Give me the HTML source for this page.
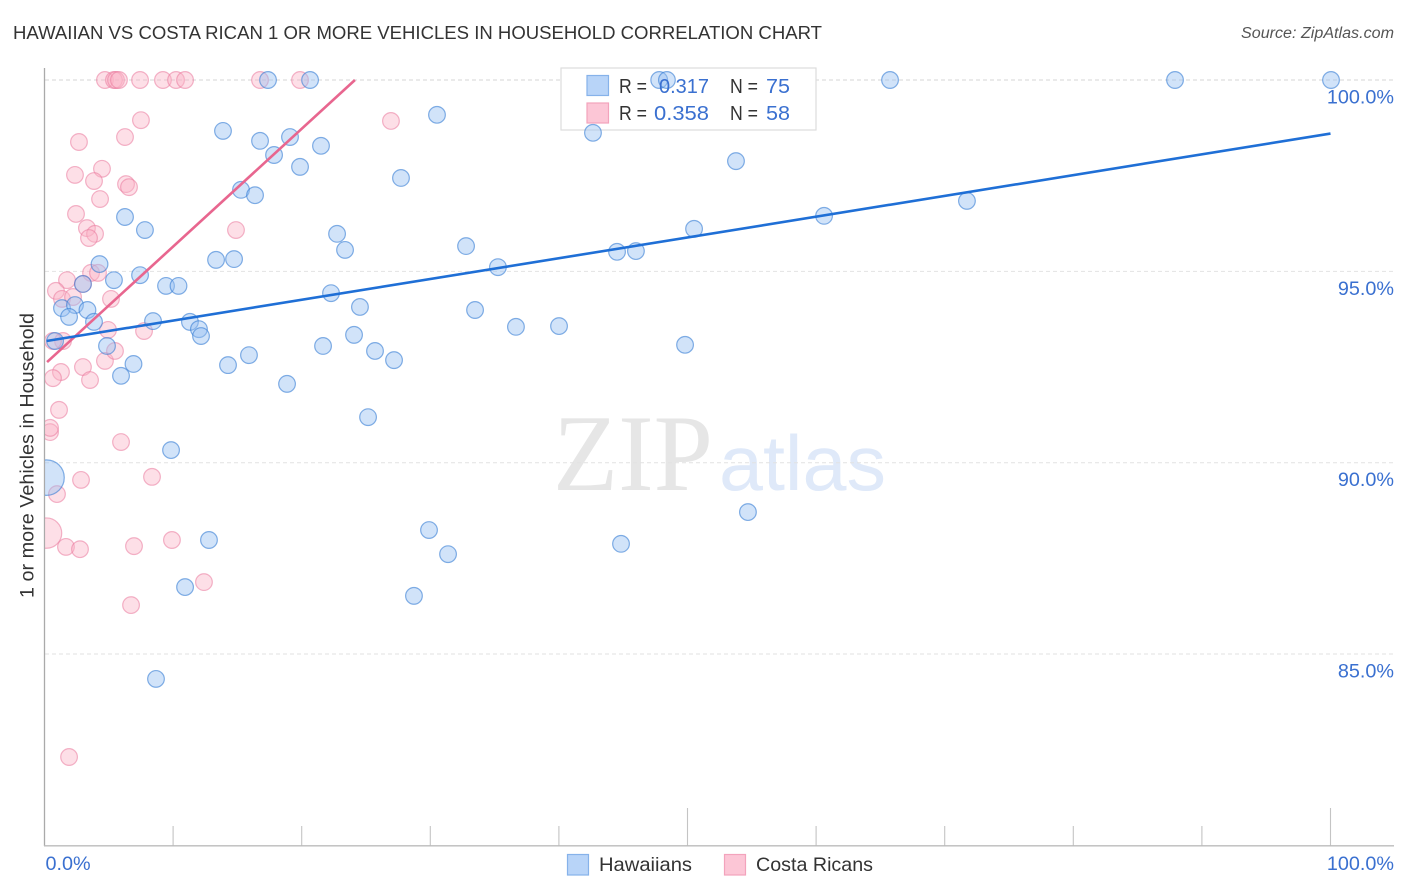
<!DOCTYPE html>
<html lang="en">
<head>
<meta charset="utf-8">
<title>Hawaiian vs Costa Rican 1 or more Vehicles in Household Correlation Chart</title>
<style>
html,body{margin:0;padding:0;background:#fff;width:1406px;height:892px;overflow:hidden}
svg{display:block;font-family:"Liberation Sans",sans-serif}
</style>
</head>
<body>
<svg id="chart" width="1406" height="892" viewBox="0 0 1406 892" xmlns="http://www.w3.org/2000/svg">
  <defs>
    <clipPath id="plot-clip"><rect x="45" y="60" width="1361" height="786"></rect></clipPath>
  </defs>
  <rect x="0" y="0" width="1406" height="892" fill="#ffffff"></rect>
  <text x="13" y="39" font-size="18.5" fill="#333333" textLength="809" lengthAdjust="spacingAndGlyphs">HAWAIIAN VS COSTA RICAN 1 OR MORE VEHICLES IN HOUSEHOLD CORRELATION CHART</text>
  <text x="1241" y="38" font-size="15.5" font-style="italic" fill="#555555" textLength="153" lengthAdjust="spacingAndGlyphs">Source: ZipAtlas.com</text>
  <text x="553" y="490" font-family="'Liberation Serif',serif" font-size="109" fill="#e6e6e6" textLength="160" lengthAdjust="spacingAndGlyphs">ZIP</text>
  <text x="719" y="490" font-size="78" fill="#dfe9f9" textLength="167" lengthAdjust="spacingAndGlyphs">atlas</text>
  <g id="grid-layer"></g>
  <rect x="561" y="68" width="255" height="62" fill="#ffffff" stroke="#dddddd" stroke-width="1.2"></rect>
  <g id="axis-layer"></g>
  <g id="point-layer" clip-path="url(#plot-clip)"></g>
  <g id="trend-layer"></g>
  <g id="tick-label-layer"></g>
  <text transform="translate(33.5,598) rotate(-90)" font-size="19" fill="#333333" textLength="285" lengthAdjust="spacingAndGlyphs">1 or more Vehicles in Household</text>

  <g>
    <rect x="587" y="75.5" width="21.5" height="20" fill="#b8d4f8" stroke="#86b2ea" stroke-width="1.2"></rect>
    <rect x="587" y="103" width="21.5" height="20" fill="#fcc6d6" stroke="#f3a3bc" stroke-width="1.2"></rect>
    <text x="619" y="93" font-size="20" fill="#333333" textLength="28" lengthAdjust="spacingAndGlyphs">R =</text>
    <text x="659" y="93" font-size="20.5" fill="#3a70d0" textLength="50" lengthAdjust="spacingAndGlyphs">0.317</text>
    <text x="730" y="93" font-size="20" fill="#333333" textLength="28" lengthAdjust="spacingAndGlyphs">N =</text>
    <text x="766" y="93" font-size="20.5" fill="#3a70d0" textLength="24" lengthAdjust="spacingAndGlyphs">75</text>
    <text x="619" y="120" font-size="20" fill="#333333" textLength="28" lengthAdjust="spacingAndGlyphs">R =</text>
    <text x="654" y="120" font-size="20.5" fill="#3a70d0" textLength="55" lengthAdjust="spacingAndGlyphs">0.358</text>
    <text x="730" y="120" font-size="20" fill="#333333" textLength="28" lengthAdjust="spacingAndGlyphs">N =</text>
    <text x="766" y="120" font-size="20.5" fill="#3a70d0" textLength="24" lengthAdjust="spacingAndGlyphs">58</text>
  </g>

  <g>
    <rect x="567.5" y="854.5" width="21" height="20.5" fill="#b8d4f8" stroke="#86b2ea" stroke-width="1.2"></rect>
    <text x="599" y="871" font-size="19.5" fill="#333333" textLength="93" lengthAdjust="spacingAndGlyphs">Hawaiians</text>
    <rect x="724.5" y="854.5" width="21" height="20.5" fill="#fcc6d6" stroke="#f3a3bc" stroke-width="1.2"></rect>
    <text x="756" y="871" font-size="19.5" fill="#333333" textLength="117" lengthAdjust="spacingAndGlyphs">Costa Ricans</text>
  </g>
</svg>
<script>
const yTickValues = [100, 95, 90, 85];
const yTickLabels = ["100.0%", "95.0%", "90.0%", "85.0%"];
const xTickValues = [10, 20, 30, 40, 50, 60, 70, 80, 90, 100];
const xMajorTicks = [50, 100];
const xEndValues = [0, 100];
const xEndLabels = ["0.0%", "100.0%"];

const hawaiianX = [17.38,20.65,47.8,48.4,65.75,87.91,100.04,13.88,16.76,19.09,30.52,21.5,17.85,19.87,42.65,53.77,27.72,15.28,16.37,71.73,60.62,6.26,7.81,50.51,22.75,23.37,32.78,13.34,14.74,44.52,45.99,4.28,35.26,5.4,7.43,9.45,10.42,2.99,22.28,24.53,33.48,1.36,2.37,3.34,1.91,3.85,8.44,11.31,12.01,12.17,36.66,40.01,24.07,0.82,4.86,21.66,25.7,15.9,27.18,49.81,6.92,14.27,5.95,18.86,25.16,9.84,54.7,29.9,12.79,31.38,44.83,10.93,28.73,8.67];
const hawaiianY = [100,100,100,100,100,100,100,98.67,98.41,98.51,99.09,98.28,98.04,97.73,98.62,97.88,97.44,97.13,96.99,96.84,96.45,96.42,96.08,96.11,95.98,95.56,95.66,95.3,95.32,95.51,95.53,95.19,95.11,94.77,94.9,94.62,94.62,94.67,94.43,94.07,93.99,94.04,94.12,93.99,93.81,93.68,93.7,93.68,93.49,93.31,93.55,93.57,93.34,93.18,93.05,93.05,92.92,92.81,92.68,93.08,92.58,92.55,92.27,92.06,91.19,90.33,88.71,88.24,87.98,87.61,87.88,86.75,86.52,84.35];
const hawaiianLargeX = [0.16];
const hawaiianLargeY = [89.61];
const hawaiianLargeWeight = [4.5];

const costaRicanX = [4.7,5.4,5.56,5.79,7.43,9.21,10.23,10.93,16.76,19.87,7.5,26.94,6.26,2.68,4.47,2.37,3.85,6.34,6.57,4.32,2.45,14.89,3.3,3.93,3.46,3.62,4.16,1.75,2.99,0.89,5.17,1.36,2.22,4.94,7.74,1.44,0.66,1.28,0.66,2.99,3.54,4.7,5.48,1.13,0.43,0.43,5.95,2.84,8.36,0.97,1.67,2.76,6.96,9.91,12.4,6.73,1.91];
const costaRicanY = [100,100,100,100,100,100,100,100,100,100,98.95,98.93,98.51,98.38,97.68,97.52,97.36,97.28,97.2,96.89,96.5,96.08,96.13,95.98,95.87,94.96,94.96,94.77,94.67,94.49,94.28,94.28,94.33,93.47,93.44,93.18,93.18,92.37,92.21,92.5,92.16,92.66,92.92,91.38,90.8,90.91,90.54,89.55,89.63,89.18,87.8,87.74,87.82,87.98,86.88,86.28,82.31];
const costaRicanLargeX = [0.16];
const costaRicanLargeY = [88.16];
const costaRicanLargeWeight = [3.3];

const hawaiianTrendX = [0.16, 100];
const hawaiianTrendY = [93.18, 98.6];
const costaRicanTrendX = [0.2, 24.14];
const costaRicanTrendY = [92.63, 100];

const SVG_NS = "http://www.w3.org/2000/svg";
function xScale(v) { return 44.5 + v * 12.86; }
function yScale(v) { return 80 + (100 - v) * 38.27; }
function make(parent, tag, attrs) {
  const el = document.createElementNS(SVG_NS, tag);
  for (const k in attrs) el.setAttribute(k, attrs[k]);
  parent.appendChild(el);
  return el;
}

const gridLayer = document.getElementById("grid-layer");
yTickValues.forEach(function (v, i) {
  const line = make(gridLayer, "line", {
    x1: 45, x2: 1394, y1: yScale(v), y2: yScale(v),
    stroke: i === 0 ? "#d4d4d4" : "#e2e2e2",
    "stroke-width": 1, "stroke-dasharray": "4 3"
  });
  
  
});

const axisLayer = document.getElementById("axis-layer");
xTickValues.forEach(function (v) {
  const major = xMajorTicks.indexOf(v) >= 0;
  const tick = make(axisLayer, "line", {
    x1: xScale(v), x2: xScale(v), y1: major ? 808 : 826, y2: 846,
    stroke: "#c4c4c4", "stroke-width": 1.1
  });
  
  
});
const yAxis = make(axisLayer, "line", { x1: 44.5, x2: 44.5, y1: 68, y2: 846, stroke: "#aaaaaa", "stroke-width": 1.3 });


const xAxis = make(axisLayer, "line", { x1: 44, x2: 1394, y1: 845.8, y2: 845.8, stroke: "#bbbbbb", "stroke-width": 1.3 });



const pointLayer = document.getElementById("point-layer");
function drawPoint(x, y, weight, fill, stroke, name) {
  const c = make(pointLayer, "circle", {
    cx: xScale(x), cy: yScale(y), r: 8.35 * Math.sqrt(weight),
    fill: fill, stroke: stroke, "stroke-width": 1.2
  });
  
  
}
const pinkFill = "rgba(250,178,198,0.42)";
const pinkStroke = "rgba(234,120,156,0.55)";
const blueFill = "rgba(150,192,242,0.44)";
const blueStroke = "rgba(52,124,212,0.6)";
costaRicanLargeX.forEach(function (x, i) { drawPoint(x, costaRicanLargeY[i], costaRicanLargeWeight[i], pinkFill, pinkStroke, "costa-rican-point"); });
costaRicanX.forEach(function (x, i) { drawPoint(x, costaRicanY[i], 1, pinkFill, pinkStroke, "costa-rican-point"); });
hawaiianLargeX.forEach(function (x, i) { drawPoint(x, hawaiianLargeY[i], hawaiianLargeWeight[i], blueFill, blueStroke, "hawaiian-point"); });
hawaiianX.forEach(function (x, i) { drawPoint(x, hawaiianY[i], 1, blueFill, blueStroke, "hawaiian-point"); });

const trendLayer = document.getElementById("trend-layer");
const pinkTrend = make(trendLayer, "line", {
  x1: xScale(costaRicanTrendX[0]), y1: yScale(costaRicanTrendY[0]),
  x2: xScale(costaRicanTrendX[1]), y2: yScale(costaRicanTrendY[1]),
  stroke: "#e8668f", "stroke-width": 2.6
});


const blueTrend = make(trendLayer, "line", {
  x1: xScale(hawaiianTrendX[0]), y1: yScale(hawaiianTrendY[0]),
  x2: xScale(hawaiianTrendX[1]), y2: yScale(hawaiianTrendY[1]),
  stroke: "#1f6fd6", "stroke-width": 2.6
});



const labelLayer = document.getElementById("tick-label-layer");
yTickValues.forEach(function (v, i) {
  const t = make(labelLayer, "text", {
    x: 1394, y: yScale(v) + 23.5, "text-anchor": "end",
    "font-size": 19.8, fill: "#3a70d0"
  });
  
  
  t.textContent = yTickLabels[i];
});
xEndValues.forEach(function (v, i) {
  const t = make(labelLayer, "text", {
    x: i === 0 ? xScale(v) + 1 : 1394, y: 870, "text-anchor": i === 0 ? "start" : "end",
    "font-size": 19.8, fill: "#3a70d0"
  });
  
  
  t.textContent = xEndLabels[i];
});
</script>
</body>
</html>
